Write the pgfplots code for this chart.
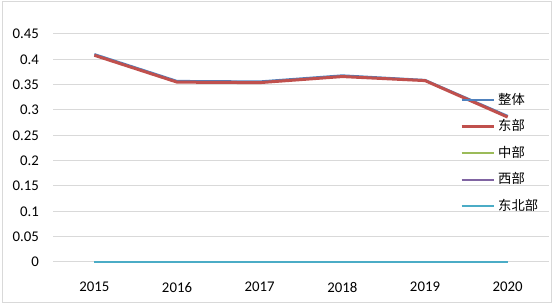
\documentclass[border=0pt]{standalone}
\usepackage{fontspec}
\setmainfont{Carlito}
\newfontfamily\cjk{Noto Sans CJK SC}
\usepackage{pgfplots}
\pgfplotsset{compat=1.18}
\definecolor{cBlue}{RGB}{79,129,189}
\definecolor{cRed}{RGB}{192,80,77}
\definecolor{cGreen}{RGB}{155,187,89}
\definecolor{cPurple}{RGB}{128,100,162}
\definecolor{cAqua}{RGB}{75,172,198}
\definecolor{cGrid}{RGB}{217,217,217}
\begin{document}
\begin{tikzpicture}
\useasboundingbox (0,0) rectangle (553bp,306bp);
\draw[cGrid, line width=1bp] (2bp,3bp) rectangle (551bp,304bp);
\begin{axis}[
  at={(53bp,44bp)}, anchor=south west,
  scale only axis, width=496bp, height=228bp,
  xmin=2014.5, xmax=2020.5, ymin=0, ymax=0.45,
  xtick={2015,2016,2017,2018,2019,2020},
  ytick={0,0.05,0.1,0.15,0.2,0.25,0.3,0.35,0.4,0.45},
  yticklabels={0,0.05,0.1,0.15,0.2,0.25,0.3,0.35,0.4,0.45},
  xticklabels={2015,2016,2017,2018,2019,2020},
  axis line style={draw=none}, tick style={draw=none},
  ymajorgrids, grid style={cGrid, line width=1bp},
  tick label style={font=\fontsize{14.8bp}{17bp}\selectfont, inner sep=0pt},
  xticklabel style={anchor=north, yshift=-20bp},
  yticklabel style={anchor=east, xshift=-14bp},
  clip=false,
  legend image code/.code={\draw[#1] (0bp,0bp) -- (32bp,0bp);},
  legend cell align=left,
  legend style={draw=none, fill=none, inner sep=0pt, anchor=north west,
    at={(0.8206,0.739)}, row sep=13.5bp, column sep=3bp,
    font=\cjk\fontsize{13.3bp}{16bp}\selectfont,
    nodes={inner sep=0pt, text height=10.5bp, text depth=2.5bp}},
  line join=round,
]
\addplot[cBlue, line width=2.4bp] coordinates {(2015,0.410) (2016,0.357) (2017,0.356) (2018,0.368) (2019,0.359) (2020,0.288)};
\addplot[cRed, line width=3bp] coordinates {(2015,0.408) (2016,0.355) (2017,0.354) (2018,0.366) (2019,0.358) (2020,0.286)};
\addplot[cGreen, line width=2.4bp] coordinates {(2015,0) (2016,0) (2017,0) (2018,0) (2019,0) (2020,0)};
\addplot[cPurple, line width=2.4bp] coordinates {(2015,0) (2016,0) (2017,0) (2018,0) (2019,0) (2020,0)};
\addplot[cAqua, line width=2.4bp] coordinates {(2015,0) (2016,0) (2017,0) (2018,0) (2019,0) (2020,0)};
\legend{整体,东部,中部,西部,东北部}
\end{axis}
\end{tikzpicture}
\end{document}
